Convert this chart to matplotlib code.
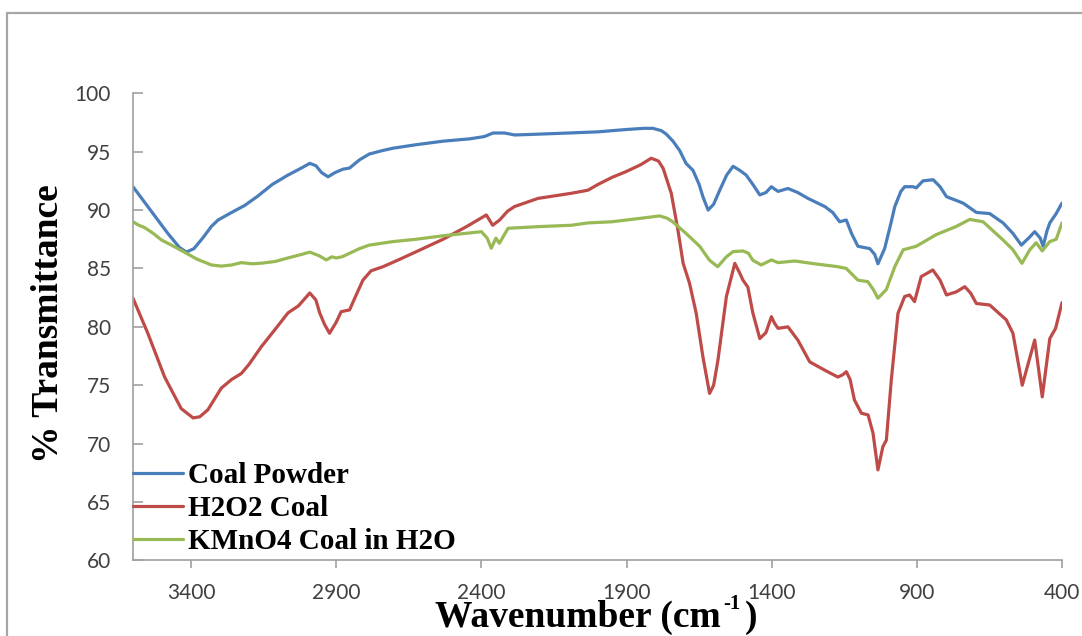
import matplotlib
matplotlib.use("Agg")
import matplotlib.pyplot as plt
from matplotlib.patches import Rectangle

# ---- FTIR spectra (wavenumber in cm^-1, % transmittance) ----
coal_powder_x = [3600, 3540, 3480, 3440, 3416, 3390, 3360, 3330, 3307, 3260, 3215, 3170,
                 3120, 3066, 3020, 2991, 2970, 2950, 2928, 2905, 2877, 2854, 2820, 2786,
                 2740, 2704, 2624, 2532, 2440, 2389, 2360, 2320, 2285, 2205, 2100, 1998,
                 1901, 1840, 1809, 1780, 1763, 1740, 1717, 1695, 1671, 1650, 1637, 1619,
                 1600, 1579, 1555, 1533, 1510, 1488, 1465, 1441, 1420, 1401, 1390, 1378,
                 1344, 1310, 1275, 1217, 1190, 1166, 1143, 1125, 1103, 1062, 1045, 1034,
                 1011, 990, 976, 955, 942, 913, 902, 879, 844, 820, 798, 741, 695, 649,
                 603, 569, 540, 515, 494, 475, 465, 452, 442, 420, 400]
coal_powder_y = [92.0, 90.0, 88.0, 86.8, 86.4, 86.7, 87.6, 88.6, 89.15, 89.8, 90.4, 91.2,
                 92.2, 93.0, 93.6, 94.0, 93.8, 93.2, 92.85, 93.2, 93.5, 93.6, 94.3, 94.8,
                 95.1, 95.3, 95.6, 95.9, 96.1, 96.3, 96.6, 96.6, 96.43, 96.5, 96.6, 96.7,
                 96.9, 97.0, 97.0, 96.8, 96.5, 95.9, 95.1, 94.0, 93.4, 92.2, 91.15, 90.0,
                 90.5, 91.7, 93.0, 93.75, 93.4, 93.0, 92.2, 91.3, 91.5, 92.0, 91.8, 91.6,
                 91.85, 91.5, 91.0, 90.3, 89.8, 89.0, 89.15, 88.0, 86.9, 86.7, 86.2, 85.4,
                 86.7, 88.8, 90.3, 91.6, 92.0, 92.0, 91.9, 92.5, 92.6, 92.0, 91.15, 90.6,
                 89.8, 89.7, 88.9, 88.0, 87.0, 87.6, 88.15, 87.6, 86.9, 88.2, 88.9, 89.7,
                 90.6]

h2o2_coal_x = [3600, 3549, 3491, 3434, 3393, 3370, 3342, 3296, 3260, 3227, 3200, 3158,
               3110, 3066, 3030, 2991, 2970, 2957, 2940, 2923, 2900, 2883, 2854, 2830,
               2808, 2780, 2739, 2680, 2624, 2532, 2450, 2383, 2361, 2337, 2310, 2286,
               2205, 2090, 2033, 1998, 1950, 1901, 1850, 1815, 1790, 1774, 1746, 1723,
               1705, 1683, 1660, 1637, 1614, 1600, 1585, 1556, 1527, 1510, 1499, 1482,
               1465, 1441, 1420, 1401, 1390, 1378, 1344, 1310, 1269, 1218, 1172, 1155,
               1143, 1130, 1115, 1091, 1068, 1051, 1034, 1017, 1005, 988, 965, 942, 925,
               908, 885, 845, 820, 798, 764, 735, 715, 695, 649, 592, 569, 537, 494,
               468, 442, 422, 400]
h2o2_coal_y = [82.45, 79.45, 75.7, 73.0, 72.2, 72.3, 72.9, 74.75, 75.5, 76.0, 76.8, 78.3,
               79.8, 81.2, 81.8, 82.9, 82.3, 81.2, 80.2, 79.45, 80.4, 81.3, 81.45, 82.8,
               84.0, 84.8, 85.15, 85.8, 86.44, 87.5, 88.6, 89.58, 88.7, 89.15, 89.9, 90.3,
               91.0, 91.44, 91.7, 92.2, 92.8, 93.3, 93.9, 94.44, 94.2, 93.58, 91.44, 88.3,
               85.44, 83.73, 81.16, 77.45, 74.3, 75.0, 77.17, 82.6, 85.44, 84.6, 84.0, 83.4,
               81.2, 79.0, 79.5, 80.87, 80.3, 79.87, 80.0, 78.87, 77.0, 76.3, 75.7, 75.9,
               76.16, 75.5, 73.74, 72.6, 72.46, 70.9, 67.75, 69.74, 70.3, 75.45, 81.16,
               82.6, 82.73, 82.16, 84.3, 84.87, 84.0, 82.73, 83.0, 83.44, 82.9, 82.0,
               81.87, 80.6, 79.45, 75.0, 78.87, 74.0, 79.0, 79.87, 82.07]

kmno4_coal_x = [3600, 3580, 3560, 3530, 3502, 3460, 3416, 3380, 3330, 3296, 3260, 3227,
                3190, 3158, 3110, 3066, 3020, 2991, 2960, 2934, 2915, 2900, 2880, 2854,
                2820, 2786, 2705, 2625, 2532, 2400, 2380, 2366, 2350, 2338, 2308, 2205,
                2090, 2033, 1950, 1850, 1786, 1760, 1741, 1695, 1648, 1614, 1586, 1556,
                1533, 1499, 1480, 1465, 1436, 1401, 1378, 1320, 1252, 1172, 1143, 1103,
                1069, 1050, 1034, 1005, 976, 947, 902, 833, 764, 718, 672, 603, 569, 538,
                511, 489, 468, 442, 420, 400]
kmno4_coal_y = [89.0, 88.7, 88.5, 88.0, 87.44, 86.9, 86.3, 85.8, 85.3, 85.2, 85.3, 85.5,
                85.4, 85.45, 85.6, 85.9, 86.2, 86.4, 86.1, 85.73, 86.0, 85.9, 86.0, 86.3,
                86.7, 87.0, 87.3, 87.5, 87.8, 88.15, 87.6, 86.73, 87.6, 87.16, 88.44, 88.58,
                88.7, 88.9, 89.0, 89.3, 89.5, 89.3, 89.0, 88.0, 86.9, 85.7, 85.15, 86.0,
                86.44, 86.5, 86.3, 85.7, 85.3, 85.73, 85.5, 85.64, 85.4, 85.15, 85.0, 84.0,
                83.87, 83.2, 82.45, 83.2, 85.15, 86.6, 86.9, 87.9, 88.6, 89.2, 89.0, 87.44,
                86.6, 85.44, 86.6, 87.2, 86.5, 87.3, 87.5, 88.9]

series_labels = ["Coal Powder", "H2O2 Coal", "KMnO4 Coal in H2O"]
series_colors = ["#4A7EBB", "#BE4B48", "#98B954"]
x_ticks = [3400, 2900, 2400, 1900, 1400, 900, 400]
y_ticks = [60, 65, 70, 75, 80, 85, 90, 95, 100]

SERIF = ["Liberation Serif", "DejaVu Serif"]

W, H = 1082, 636
fig = plt.figure(figsize=(W / 100, H / 100), dpi=100)
fig.patch.set_facecolor("white")

# outer chart-area frame
fig.add_artist(Rectangle((7 / W, -0.1), 1.2, (H - 13) / H + 0.1,
                         transform=fig.transFigure, fill=False,
                         edgecolor="#A6A6A6", linewidth=1.6))

ax = fig.add_axes([133 / W, (H - 560.4) / H, (1062 - 133) / W, (560.4 - 93.3) / H])

for xs, ys, lab, col in zip([coal_powder_x, h2o2_coal_x, kmno4_coal_x],
                            [coal_powder_y, h2o2_coal_y, kmno4_coal_y],
                            series_labels, series_colors):
    ax.plot(xs, ys, color=col, lw=2.3, label=lab, solid_joinstyle="round",
            solid_capstyle="round")

ax.set_xlim(3600, 400)
ax.set_ylim(60, 100)
ax.set_xticks(x_ticks)
ax.set_yticks(y_ticks)

for s in ["top", "right"]:
    ax.spines[s].set_visible(False)
for s in ["left", "bottom"]:
    ax.spines[s].set_color("#A0A0A0")
    ax.spines[s].set_linewidth(1.2)

ax.tick_params(axis="y", direction="in", length=7, width=1.2, color="#A0A0A0", pad=16)
ax.tick_params(axis="x", direction="out", length=6, width=1.2, color="#A0A0A0", pad=10)
for lbl in ax.get_xticklabels() + ax.get_yticklabels():
    lbl.set_fontfamily("Lato")
    lbl.set_fontsize(15)
    lbl.set_color("#404040")

fig.text(49 / W, 1 - 324 / H, "% Transmittance", rotation=90, ha="center", va="center",
         fontsize=27, fontweight="bold", family=SERIF)

# x-axis title with a small raised "-1"
fig.text(435 / W, 1 - 627 / H, "Wavenumber (cm", ha="left", va="baseline",
         fontsize=27, fontweight="bold", family=SERIF)
fig.text(723 / W, 1 - 609 / H, "-1", ha="left", va="baseline",
         fontsize=15, fontweight="bold", family=SERIF)
fig.text(745 / W, 1 - 627 / H, ")", ha="left", va="baseline",
         fontsize=27, fontweight="bold", family=SERIF)

leg = ax.legend(loc="lower left", bbox_to_anchor=(0.0, 0.012), frameon=False,
                prop=dict(family=SERIF, weight="bold", size=21),
                handlelength=1.7, handletextpad=0.2, labelspacing=0.2,
                borderpad=0, borderaxespad=0)

fig.savefig("out.png", dpi=100, facecolor="white")
